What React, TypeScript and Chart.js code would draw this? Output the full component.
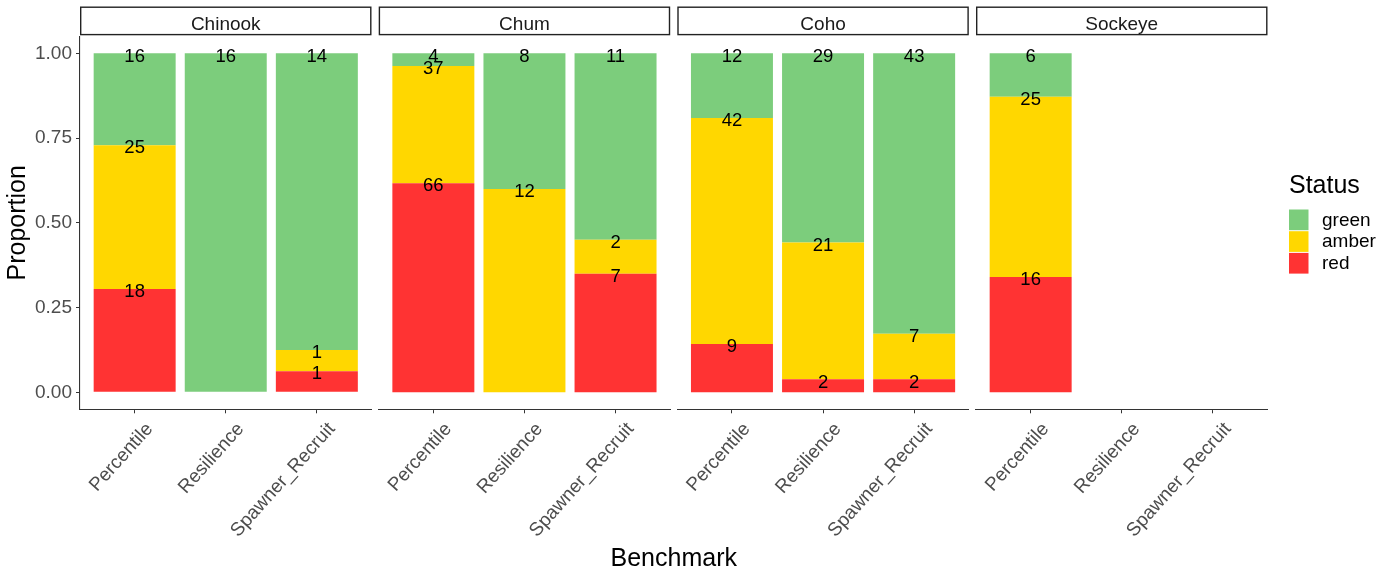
import React, { useEffect, useRef } from 'react';
import { Chart, registerables } from 'chart.js';

Chart.register(...registerables);

// ---------- data ----------
const species = ['Chinook', 'Chum', 'Coho', 'Sockeye'];
const benchmarks = ['Percentile', 'Resilience', 'Spawner_Recruit'];
const statuses = ['green', 'amber', 'red'];
const statusColors = ['#7CCD7C', '#FFD700', '#FF3333'];
// counts per species (rows) and benchmark (columns)
const greenCounts = [
  [16, 16, 14],
  [4, 8, 11],
  [12, 29, 43],
  [6, 0, 0],
];
const amberCounts = [
  [25, 0, 1],
  [37, 12, 2],
  [42, 21, 7],
  [25, 0, 0],
];
const redCounts = [
  [18, 0, 1],
  [66, 0, 7],
  [9, 2, 2],
  [16, 0, 0],
];
const yTicks = [0, 0.25, 0.5, 0.75, 1];

// ---------- layout ----------
const W = 1391;
const H = 571;
const panelLeft = [80, 378.7, 677.3, 976];
const panelWidth = 291.5;
const panelTop = 36.4;
const panelBottom = 409.3;
const FONT = "'Liberation Sans', Arial, Helvetica, sans-serif";

function makeConfig(k: number): any {
  const countsByStatus = [greenCounts[k], amberCounts[k], redCounts[k]];
  const totals = benchmarks.map((_, i) => countsByStatus.reduce((s, c) => s + c[i], 0));
  // stacking order: red at bottom, then amber, then green
  const order = [2, 1, 0];
  const datasets = order.map((si) => ({
    label: statuses[si],
    backgroundColor: statusColors[si],
    borderWidth: 0,
    counts: countsByStatus[si],
    data: benchmarks.map((_, i) => ({
      x: i,
      y: totals[i] > 0 ? countsByStatus[si][i] / totals[i] : 0,
    })),
    barPercentage: 0.9,
    categoryPercentage: 1,
  }));

  const stripPlugin = {
    id: 'strip' + k,
    afterDraw(chart: any) {
      const ctx = chart.ctx;
      const { left, right } = chart.chartArea;
      ctx.save();
      ctx.fillStyle = '#FFFFFF';
      ctx.strokeStyle = '#222222';
      ctx.lineWidth = 1.4;
      ctx.fillRect(left, 7, right - left, 28);
      ctx.strokeRect(left + 0.7, 7.2, right - left - 1.4, 27.4);
      ctx.fillStyle = '#1A1A1A';
      ctx.font = `19px ${FONT}`;
      ctx.textAlign = 'center';
      ctx.textBaseline = 'alphabetic';
      ctx.fillText(species[k], (left + right) / 2, 29.8);
      ctx.restore();
    },
  };

  const labelPlugin = {
    id: 'counts' + k,
    afterDatasetsDraw(chart: any) {
      const ctx = chart.ctx;
      ctx.save();
      ctx.fillStyle = '#000000';
      ctx.font = `18.5px ${FONT}`;
      ctx.textAlign = 'center';
      ctx.textBaseline = 'alphabetic';
      chart.data.datasets.forEach((ds: any, di: number) => {
        const meta = chart.getDatasetMeta(di);
        meta.data.forEach((el: any, i: number) => {
          const c = ds.counts[i];
          if (c > 0) ctx.fillText(String(c), el.x, el.y + 8.2);
        });
      });
      ctx.restore();
    },
  };

  const extraPlugin = {
    id: 'extra' + k,
    afterDraw(chart: any) {
      const ctx = chart.ctx;
      ctx.save();
      if (k === 0) {
        ctx.fillStyle = '#000000';
        ctx.font = `25px ${FONT}`;
        ctx.textAlign = 'center';
        ctx.textBaseline = 'alphabetic';
        const mid = (panelLeft[0] + panelLeft[3] + panelWidth) / 2;
        ctx.fillText('Benchmark', mid, 565.5);
      }
      if (k === 3) {
        const lx = 1289;
        ctx.fillStyle = '#000000';
        ctx.font = `25px ${FONT}`;
        ctx.textAlign = 'left';
        ctx.textBaseline = 'alphabetic';
        ctx.fillText('Status', lx, 193.3);
        ctx.font = `19px ${FONT}`;
        ctx.textBaseline = 'middle';
        statuses.forEach((s, i) => {
          const y = 209 + i * 21.7;
          ctx.fillStyle = statusColors[i];
          ctx.fillRect(lx, y + 0.5, 19.5, 20.7);
          ctx.fillStyle = '#000000';
          ctx.fillText(s, lx + 33, y + 11.5);
        });
      }
      ctx.restore();
    },
  };

  return {
    type: 'bar',
    data: { datasets },
    plugins: [labelPlugin, stripPlugin, extraPlugin],
    options: {
      responsive: false,
      animation: false,
      events: [],
      layout: {
        padding: {
          left: k === 0 ? 0 : panelLeft[k],
          right: W - panelLeft[k] - panelWidth,
          top: panelTop,
          bottom: 0,
        },
      },
      plugins: {
        legend: { display: false },
        tooltip: { enabled: false },
        title: { display: false },
      },
      scales: {
        x: {
          type: 'linear',
          stacked: true,
          min: -0.6,
          max: 2.6,
          offset: false,
          afterBuildTicks: (s: any) => {
            s.ticks = benchmarks.map((_, i) => ({ value: i }));
          },
          afterFit: (s: any) => {
            s.height = H - panelBottom;
          },
          ticks: {
            autoSkip: false,
            minRotation: 48,
            maxRotation: 48,
            padding: 5,
            labelOffset: 15,
            color: '#4D4D4D',
            font: { family: FONT, size: 19 },
            callback: (v: any) => benchmarks[v] ?? '',
          },
          grid: {
            offset: false,
            drawOnChartArea: false,
            drawTicks: true,
            tickLength: 4,
            tickWidth: 1,
            color: '#333333',
          },
          border: { display: true, color: '#333333', width: 1.1 },
        },
        y: {
          display: k === 0,
          stacked: true,
          min: -0.05,
          max: 1.05,
          afterBuildTicks: (s: any) => {
            s.ticks = yTicks.map((v) => ({ value: v }));
          },
          afterFit: (s: any) => {
            s.width = k === 0 ? 80 : 0;
          },
          ticks: {
            padding: 4,
            color: '#4D4D4D',
            font: { family: FONT, size: 19 },
            callback: (v: any) => Number(v).toFixed(2),
          },
          grid: {
            drawOnChartArea: false,
            drawTicks: true,
            tickLength: 4,
            tickWidth: 1,
            color: '#333333',
          },
          border: { display: true, color: '#333333', width: 1.1 },
          title: {
            display: true,
            text: 'Proportion',
            color: '#000000',
            font: { family: FONT, size: 25 },
            padding: { top: 3, bottom: 0 },
          },
        },
      },
    },
  };
}

export default function App() {
  const refs = useRef<(HTMLCanvasElement | null)[]>([]);
  useEffect(() => {
    const charts = species.map((_, k) => new Chart(refs.current[k] as HTMLCanvasElement, makeConfig(k)));
    return () => charts.forEach((c) => c.destroy());
  }, []);
  return (
    <div style={{ position: 'absolute', left: 0, top: 0, width: W, height: H, background: '#ffffff', overflow: 'hidden' }}>
      {species.map((s, k) => (
        <canvas
          key={s}
          ref={(el) => {
            refs.current[k] = el;
          }}
          width={W}
          height={H}
          style={{ position: 'absolute', left: 0, top: 0, width: W, height: H }}
        />
      ))}
    </div>
  );
}
